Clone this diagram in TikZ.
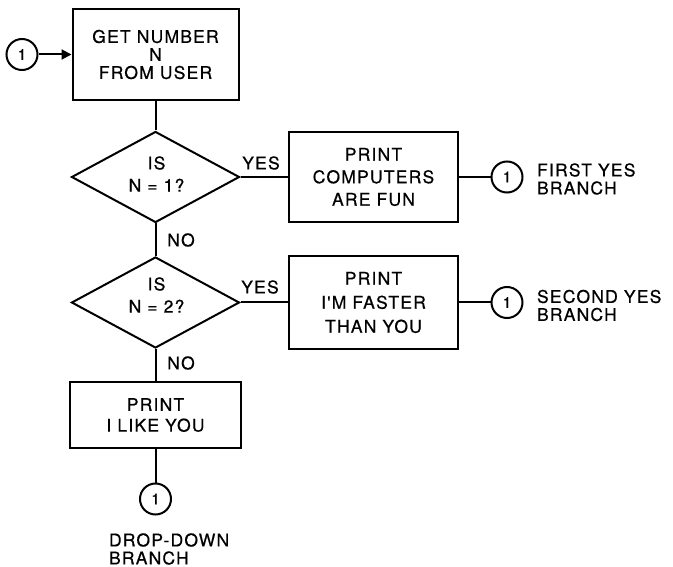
\documentclass[tikz,border=0pt]{standalone}
\usepackage{fontspec}
\setmainfont{TeX Gyre Heros}
\newfontfamily\flowfont[LetterSpace=7,FakeBold=0.6]{TeX Gyre Heros}
\usetikzlibrary{shapes.geometric,arrows.meta}
\begin{document}
\begin{tikzpicture}[x=1pt,y=-1pt,
  line width=2pt,
  every node/.style={font=\flowfont\fontsize{17.5}{18}\selectfont, inner sep=0pt},
  procbox/.style={draw, rectangle, align=center},
  decision/.style={draw, diamond, minimum width=168pt, minimum height=91pt},
  onpage/.style={draw, circle, minimum size=31pt, font=\flowfont\fontsize{15}{16}\selectfont},
  note/.style={align=left, anchor=west},
  flowarrow/.style={-{Triangle[length=10pt,width=10pt]}}]
\useasboundingbox (0,0) rectangle (673,567);

% process boxes
\node[procbox, minimum width=166pt, minimum height=91pt] (get) at (155.5,54.5)
  {GET NUMBER\\N\\FROM USER};
\node[procbox, minimum width=169pt, minimum height=90pt] (fun) at (373.5,177)
  {PRINT\\[4.5pt]COMPUTERS\\[4.5pt]ARE FUN};
\node[procbox, minimum width=169pt, minimum height=92pt] (fast) at (373.5,302.5)
  {PRINT\\[6pt]I'M FASTER\\[6pt]THAN YOU};
\node[procbox, minimum width=171pt, minimum height=66pt] (like) at (155.5,415)
  {PRINT\\[2.7pt]I LIKE YOU};

% decisions
\node[decision] (q1) at (155.5,177) {};
\node[align=center] (q1t) at (156.5,174) {IS\\[4.3pt]N = 1?};
\node[decision] (q2) at (155.5,302.5) {};
\node[align=center] (q2t) at (156.5,295) {IS\\[4.3pt]N = 2?};

% on-page connectors
\node[onpage] (c0) at (22,54.5) {1};
\node[onpage] (c1) at (507,177) {1};
\node[onpage] (c2) at (507,302.5) {1};
\node[onpage] (c3) at (155.5,499) {1};

% connectors
\draw[flowarrow] (c0) -- (get.west);
\draw (get.south) -- (q1.north);
\draw (q1.east) -- (fun.west);
\draw (fun.east) -- (c1);
\draw (q1.south) -- (q2.north);
\draw (q2.east) -- (fast.west);
\draw (fast.east) -- (c2);
\draw (q2.south) -- (like.north);
\draw (like.south) -- (c3);

% branch labels
\node (yes1) at (261,163) {YES};
\node (yes2) at (260,287) {YES};
\node (no1) at (181,240) {NO};
\node (no2) at (181,363) {NO};

% connector notes
\node[note] (n1) at (536,179) {FIRST YES\\BRANCH};
\node[note] (n2) at (536,305.5) {SECOND YES\\BRANCH};
\node[note] (n3) at (108,549) {DROP-DOWN\\BRANCH};
\end{tikzpicture}
\end{document}
